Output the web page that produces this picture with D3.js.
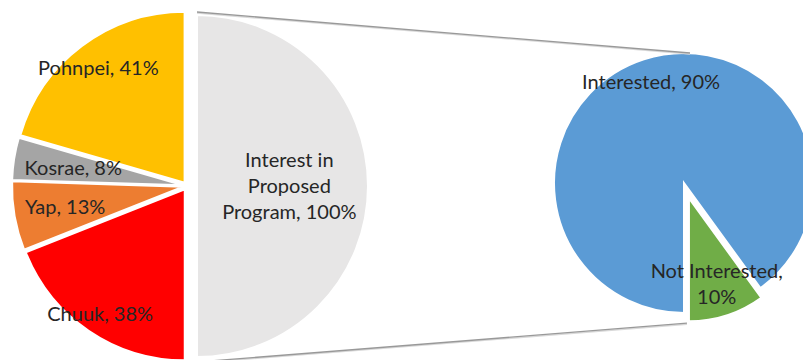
<!DOCTYPE html>
<html>
<head>
<meta charset="utf-8">
<script src="https://cdn.jsdelivr.net/npm/d3@7"></script>
<style>
  body { margin: 0; background: #fff; }
  svg { display: block; }
</style>
</head>
<body>
<div id="chart"></div>
<script>
// data
const regions = ["Pohnpei", "Kosrae", "Yap", "Chuuk"];
const regionShare = [41, 8, 13, 38];
const mainName = "Interest in Proposed Program";
const mainShare = [100];
const interest = ["Interested", "Not Interested"];
const interestShare = [90, 10];

const regionColors = ["#FFC000", "#A5A5A5", "#ED7D31", "#FF0000"];
const mainColor = "#E7E6E6";
const interestColors = ["#5B9BD5", "#70AD47"];

const width = 803, height = 360;
const font = "Lato, 'Open Sans', sans-serif";
const fontSize = 20;

const svg = d3.select("#chart")
  .append("svg")
  .attr("width", width)
  .attr("height", height)
  .attr("viewBox", [0, 0, width, height]);

// left pie
const c1 = [187, 186], r1 = 171;
const c2 = [684, 183], r2 = 130;

const mid = d => (d.startAngle + d.endAngle) / 2;
const polar = (a, k) => [Math.sin(a) * k, -Math.cos(a) * k];

const regionArcs = d3.pie().sort(null).startAngle(0).endAngle(-Math.PI)(regionShare);
const mainArcs = d3.pie().sort(null).startAngle(0).endAngle(Math.PI)(mainShare);
const interestArcs = d3.pie().sort(null).startAngle(Math.PI).endAngle(3 * Math.PI)(interestShare);

const arc1 = d3.arc().innerRadius(0).outerRadius(r1);

const left = svg.append("g").attr("transform", `translate(${c1})`);

// label radius (fraction of r) per slice
const regionLabelK = [0.84, 0.65, 0.70, 0.88];

left.selectAll("path.region")
  .data(regionArcs)
  .join("path")
  .attr("class", "region")
  .attr("transform", d => `translate(${polar(mid(d), 4)})`)
  .attr("d", arc1)
  .attr("fill", (d, i) => regionColors[i])
  .attr("stroke", "#fff")
  .attr("stroke-width", 2);

left.selectAll("path.main")
  .data(mainArcs)
  .join("path")
  .attr("class", "main")
  .attr("transform", d => `translate(${polar(mid(d), 10)})`)
  .attr("d", arc1)
  .attr("fill", mainColor)
  .attr("stroke", "#fff")
  .attr("stroke-width", 2);

// right pie
const right = svg.append("g").attr("transform", `translate(${c2})`);
const interestExplode = [0, 16];
const interestR = [r2, r2 - 7];
const interestLabelK = [0.82, 0.73];

right.selectAll("path")
  .data(interestArcs)
  .join("path")
  .attr("transform", (d, i) => `translate(${polar(mid(d), interestExplode[i])})`)
  .attr("d", (d, i) => d3.arc().innerRadius(0).outerRadius(interestR[i])(d))
  .attr("fill", (d, i) => interestColors[i])
  .attr("stroke", "#fff")
  .attr("stroke-width", 2);

// connector lines
const topStart = [c1[0] + 10, c1[1] - r1 - 3];
const topEnd = [c2[0] + 6, c2[1] - r2];
const gOff = polar(mid(interestArcs[1]), interestExplode[1]);
const botStart = [c1[0] + 10, c1[1] + r1 + 5];
const botEnd = [c2[0] + gOff[0] - 2, c2[1] + gOff[1] + interestR[1] + 2];

[[topStart, topEnd], [botStart, botEnd]].forEach(([a, b]) => {
  svg.append("line")
    .attr("x1", a[0]).attr("y1", a[1] + 1)
    .attr("x2", b[0]).attr("y2", b[1] + 1)
    .attr("stroke", "#d9d9d9")
    .attr("stroke-width", 1.5);
  svg.append("line")
    .attr("x1", a[0]).attr("y1", a[1])
    .attr("x2", b[0]).attr("y2", b[1])
    .attr("stroke", "#999")
    .attr("stroke-width", 1.3);
});

// labels
const lineH = 26;
function label(g, pos, lines) {
  const t = g.append("text")
    .attr("x", pos[0])
    .attr("y", pos[1])
    .attr("text-anchor", "middle")
    .attr("font-family", font)
    .attr("font-size", fontSize)
    .attr("fill", "#262626");
  const y0 = -(lines.length - 1) / 2 * lineH + fontSize * 0.35;
  lines.forEach((s, i) => {
    t.append("tspan")
      .attr("x", pos[0])
      .attr("y", pos[1] + y0 + i * lineH)
      .text(s);
  });
}

regionArcs.forEach((d, i) => {
  const off = polar(mid(d), 4);
  const p = polar(mid(d), r1 * regionLabelK[i]);
  label(left, [p[0] + off[0], p[1] + off[1]], [`${regions[i]}, ${d.data}%`]);
});

mainArcs.forEach(d => {
  const off = polar(mid(d), 10);
  const p = polar(mid(d), r1 * 0.54);
  label(left, [p[0] + off[0], p[1] + off[1]], ["Interest in", "Proposed", `Program, ${d.data}%`]);
});

interestArcs.forEach((d, i) => {
  const off = polar(mid(d), interestExplode[i]);
  const p = polar(mid(d), interestR[i] * interestLabelK[i]);
  const lines = i === 1 ? [`${interest[i]},`, `${d.data}%`] : [`${interest[i]}, ${d.data}%`];
  label(right, [p[0] + off[0], p[1] + off[1]], lines);
});
</script>
</body>
</html>
